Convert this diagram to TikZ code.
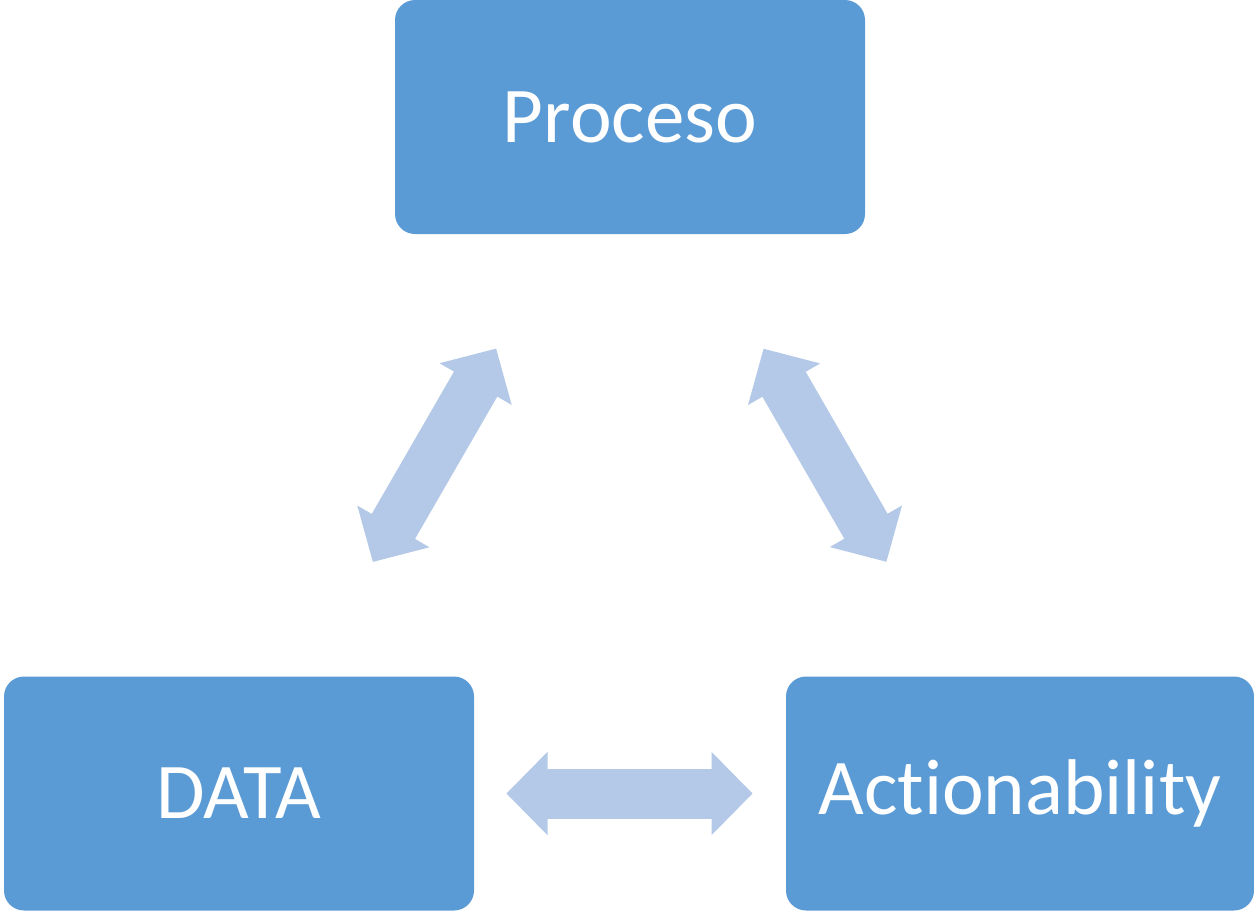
\documentclass[tikz,border=0pt]{standalone}
\usepackage{fontspec}
\setmainfont[RawFeature=-liga]{Carlito}
\usetikzlibrary{arrows.meta}
\definecolor{boxblue}{HTML}{5B9BD5}
\definecolor{arrowblue}{HTML}{B4C9E7}

\begin{document}
\begin{tikzpicture}[x=0.5pt,y=-0.5pt,
    font=\fontsize{39.5}{46}\selectfont,
    stage/.style={fill=boxblue,rounded corners=10pt,text=white,minimum width=235pt,minimum height=117pt,inner sep=0pt},
    link/.style={arrowblue,line width=25pt,shorten <=133.75pt,shorten >=133.75pt,
      {Triangle[length=20.5pt,width=41.5pt,line width=1pt]}-{Triangle[length=20.5pt,width=41.5pt,line width=1pt]}}]
  \useasboundingbox (0,0) rectangle (1254,911);

  \node[stage] (proc) at (630,117) {Proceso};
  \node[stage] (data) at (239,793.5) {DATA};
  \node[stage,minimum width=234pt] (act) at (1020,793.5) {Actionability};

  \draw[link] (data.center) -- (proc.center);
  \draw[link] (proc.center) -- (act.center);
  \draw[link] (data.center) -- (act.center);
\end{tikzpicture}
\end{document}
